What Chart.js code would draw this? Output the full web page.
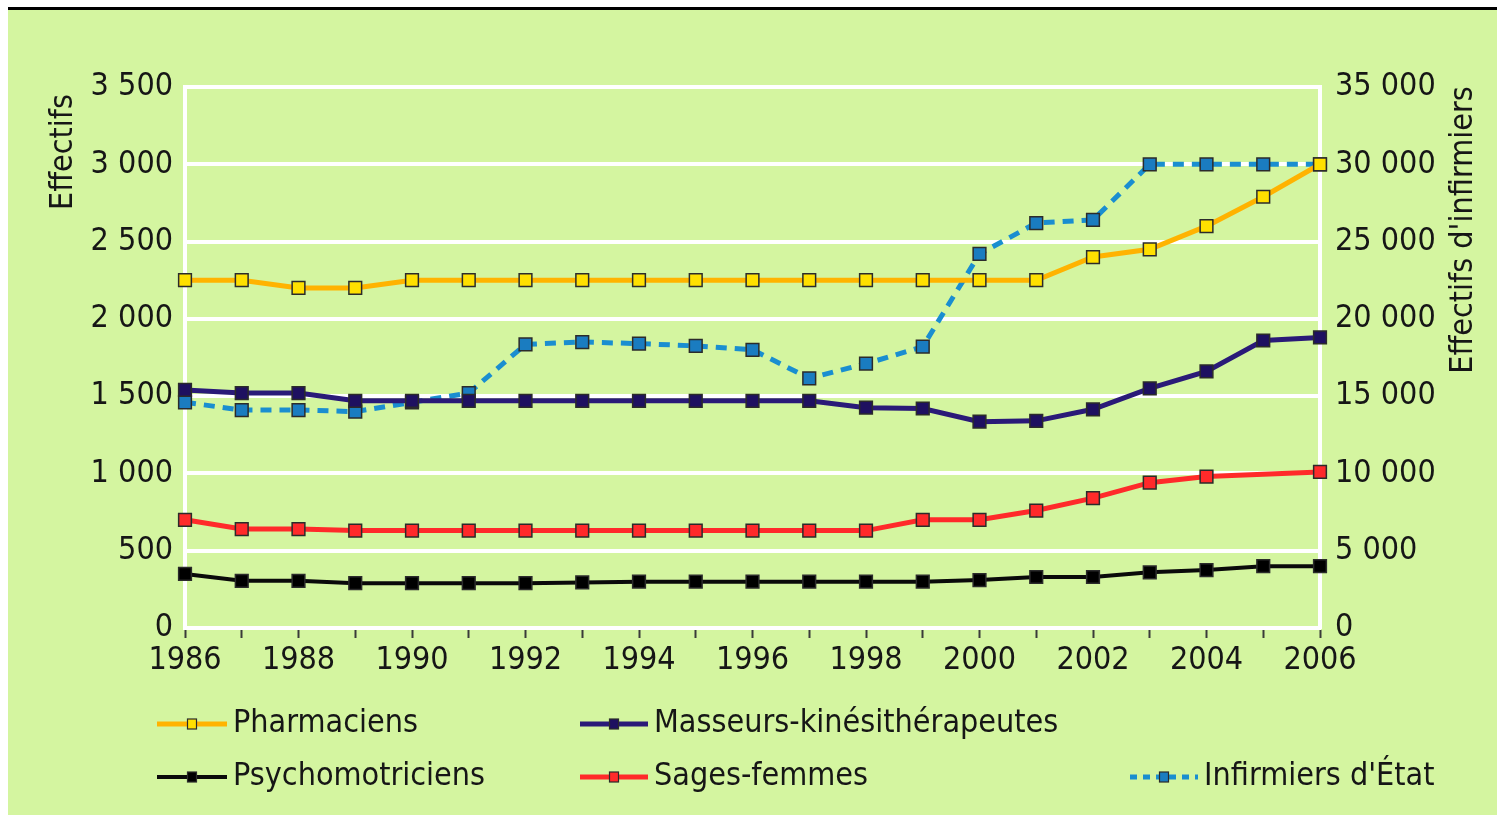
<!DOCTYPE html>
<html><head><meta charset="utf-8">
<script src="https://cdn.jsdelivr.net/npm/chart.js@4.4.0/dist/chart.umd.min.js"></script>
<style>
html,body{margin:0;padding:0;background:#fff;overflow:hidden;}
#wrap{position:absolute;left:0;top:0;width:1497px;height:815px;}
</style></head><body>
<div id="wrap"><canvas id="c" width="1497" height="815"></canvas></div>
<script>
// ---- data ----
const years = ['1986','1987','1988','1989','1990','1991','1992','1993','1994','1995','1996','1997','1998','1999','2000','2001','2002','2003','2004','2005','2006'];
const xTickLabels = ['1986','','1988','','1990','','1992','','1994','','1996','','1998','','2000','','2002','','2004','','2006'];
const yTickLabels = ['0','500','1 000','1 500','2 000','2 500','3 000','3 500'];
const y1TickLabels = ['0','5 000','10 000','15 000','20 000','25 000','30 000','35 000'];

const pharmaciens      = [2250,2250,2200,2200,2250,2250,2250,2250,2250,2250,2250,2250,2250,2250,2250,2250,2400,2450,2600,2790,3000];
const masseurs         = [1540,1520,1520,1470,1470,1470,1470,1470,1470,1470,1470,1470,1425,1420,1335,1340,1415,1550,1660,1860,1880];
const psychomotriciens = [350,305,305,290,290,290,290,295,300,300,300,300,300,300,310,330,330,360,375,400,400];
const sagesFemmes      = [700,640,640,630,630,630,630,630,630,630,630,630,630,700,700,760,840,940,980,null,1010];
const infirmiers       = [14600,14100,14100,14000,14600,15200,18350,18500,18400,18250,18000,16150,17100,18200,24200,26200,26400,30000,30000,30000,30000];

const leftTitle = 'Effectifs';
const rightTitle = "Effectifs d'infirmiers";

// ---- styles ----
const FONT = "'DejaVu Sans Condensed', 'Liberation Sans Narrow', sans-serif";
const TXT = '#161616';
const BG = '#d4f5a0';

function ds(opts) {
  return {
    label: opts.label, data: opts.data, yAxisID: opts.axis, order: opts.order,
    borderColor: opts.line, borderWidth: opts.width, borderDash: opts.dash || [],
    pointStyle: 'rect', pointRadius: 9, pointHoverRadius: 9,
    pointBackgroundColor: opts.fill, pointBorderColor: '#2b2b2b', pointBorderWidth: 1.5,
    tension: 0, spanGaps: true, fill: false
  };
}

const datasets = [
  ds({label: 'Pharmaciens', data: pharmaciens, line: '#ffb300', fill: '#ffe000', width: 5, order: 1, axis: 'y'}),
  ds({label: 'Masseurs-kinésithérapeutes', data: masseurs, line: '#2a1a78', fill: '#1e1060', width: 5, order: 2, axis: 'y'}),
  ds({label: 'Psychomotriciens', data: psychomotriciens, line: '#0a0a0a', fill: '#000000', width: 4, order: 3, axis: 'y'}),
  ds({label: 'Sages-femmes', data: sagesFemmes, line: '#ff2a2a', fill: '#ff2a2a', width: 5, order: 4, axis: 'y'}),
  ds({label: "Infirmiers d'État", data: infirmiers, line: '#1a8ed0', fill: '#1a7cc0', width: 5, order: 5, axis: 'y1', dash: [11, 8]})
];

// legend layout (index into datasets -> position)
const legendLayout = [
  {i:0, x1:157, x2:227, y:724, tx:233},
  {i:1, x1:580, x2:648, y:724, tx:654},
  {i:2, x1:157, x2:227, y:777, tx:233},
  {i:3, x1:580, x2:648, y:777, tx:654},
  {i:4, x1:1130, x2:1198, y:777, tx:1204}
];

const bgPlugin = {
  id: 'bg',
  beforeDraw(chart) {
    const ctx = chart.ctx;
    ctx.save();
    ctx.fillStyle = '#ffffff';
    ctx.fillRect(0, 0, chart.width, chart.height);
    ctx.fillStyle = BG;
    ctx.fillRect(8, 10, chart.width - 8, chart.height - 10);
    ctx.fillStyle = '#000';
    ctx.fillRect(8, 7, chart.width - 8, 3);
    ctx.restore();
  }
};

const deco = {
  id: 'deco',
  afterDraw(chart) {
    const ctx = chart.ctx;
    ctx.save();
    ctx.font = '32px ' + FONT;
    ctx.fillStyle = TXT;
    ctx.textBaseline = 'middle';
    // axis titles
    ctx.save();
    ctx.translate(64, 152);
    ctx.rotate(-Math.PI / 2);
    ctx.textAlign = 'center';
    ctx.fillText(leftTitle, 0, 0);
    ctx.restore();
    ctx.save();
    ctx.translate(1464, 230);
    ctx.rotate(-Math.PI / 2);
    ctx.textAlign = 'center';
    ctx.fillText(rightTitle, 0, 0);
    ctx.restore();
    // legend
    legendLayout.forEach(L => {
      const d = chart.data.datasets[L.i];
      ctx.save();
      ctx.strokeStyle = d.borderColor;
      ctx.lineWidth = d.borderWidth;
      ctx.setLineDash(d.borderDash && d.borderDash.length ? [7, 6] : []);
      ctx.beginPath();
      ctx.moveTo(L.x1, L.y);
      ctx.lineTo(L.x2, L.y);
      ctx.stroke();
      ctx.setLineDash([]);
      const cx = (L.x1 + L.x2) / 2;
      ctx.fillStyle = d.pointBackgroundColor;
      ctx.strokeStyle = '#2b2b2b';
      ctx.lineWidth = 1.2;
      ctx.fillRect(cx - 4.5, L.y - 5, 9, 10);
      ctx.strokeRect(cx - 4.5, L.y - 5, 9, 10);
      ctx.restore();
      ctx.textAlign = 'left';
      ctx.fillStyle = TXT;
      ctx.fillText(d.label, L.tx, L.y);
    });
    ctx.restore();
  }
};

new Chart(document.getElementById('c'), {
  type: 'line',
  data: { labels: years, datasets },
  plugins: [bgPlugin, deco],
  options: {
    responsive: false,
    animation: false,
    events: [],
    layout: { padding: { left: 0, right: 0, top: 87, bottom: 137 } },
    plugins: { legend: { display: false }, tooltip: { enabled: false } },
    scales: {
      x: {
        type: 'category', offset: false,
        grid: { drawOnChartArea: false, drawTicks: true, tickLength: 10, tickColor: '#3a3a3a', tickWidth: 2 },
        border: { display: true, color: '#ffffff', width: 4 },
        ticks: { autoSkip: false, maxRotation: 0, minRotation: 0, padding: 3, color: TXT,
                 font: { family: FONT, size: 32, lineHeight: 1.2 },
                 callback: (v, i) => xTickLabels[i] },
        afterFit: s => { s.height = 50; }
      },
      y: {
        position: 'left', min: 0, max: 3500,
        grid: { color: '#ffffff', lineWidth: 4, drawTicks: false },
        border: { color: '#ffffff', width: 4 },
        ticks: { stepSize: 500, padding: 12, color: TXT, font: { family: FONT, size: 32 },
                 callback: v => yTickLabels[Math.round(v / 500)] },
        afterFit: s => { s.width = 185; }
      },
      y1: {
        position: 'right', min: 0, max: 35000,
        grid: { drawOnChartArea: false, drawTicks: false },
        border: { color: '#ffffff', width: 4 },
        ticks: { stepSize: 5000, padding: 15, color: TXT, font: { family: FONT, size: 32 },
                 callback: v => y1TickLabels[Math.round(v / 5000)] },
        afterFit: s => { s.width = 177; }
      }
    }
  }
});
</script>
</body></html>
